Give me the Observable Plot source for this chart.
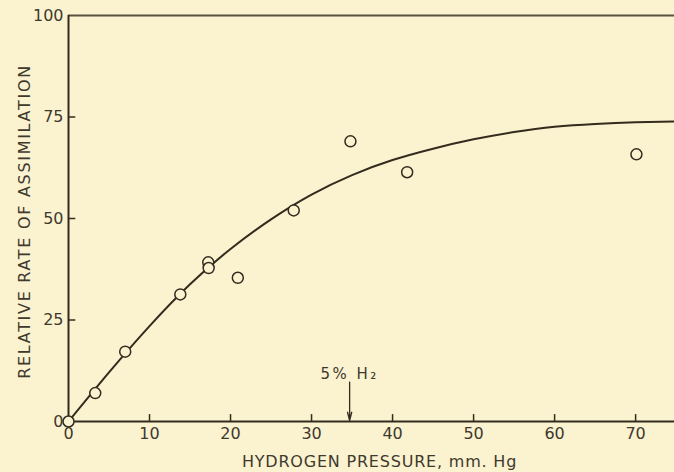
<!DOCTYPE html>
<html>
<head>
<meta charset="utf-8">
<script src="https://cdn.jsdelivr.net/npm/d3@7"></script>
<script src="https://cdn.jsdelivr.net/npm/@observablehq/plot@0.6"></script>
<style>
  html, body { margin: 0; padding: 0; background: #fbf2d0; }
  #chart { width: 674px; height: 472px; }
  g[aria-label="text"] text { letter-spacing: 0.8px; }
</style>
</head>
<body>
<div id="chart"></div>
<script>
// Measured data points (hydrogen pressure mm Hg, relative rate)
const pressure = [0, 3.3, 7.0, 13.8, 17.25, 17.3, 20.9, 27.8, 34.8, 41.8, 70.1];
const rate     = [0, 7.0, 17.2, 31.3, 39.2, 37.8, 35.4, 52.0, 69.0, 61.4, 65.8];

// Fitted curve as drawn
const curveX = [0, 5, 10, 15, 20, 25, 30, 35, 40, 45, 50, 55, 60, 65, 70, 75];
const curveY = [0, 12.1, 23.5, 33.8, 42.5, 49.8, 55.9, 60.7, 64.4, 67.2, 69.5, 71.3, 72.6, 73.3, 73.7, 73.9];

const xTickLabels = [0, 10, 20, 30, 40, 50, 60, 70];
const yTickLabels = [0, 25, 50, 75, 100];
const xInnerTicks = [10, 20, 30, 40, 50, 60, 70];
const yInnerTicks = [25, 50, 75];

const xTitle = "HYDROGEN PRESSURE, mm. Hg";
const yTitle = "RELATIVE RATE OF ASSIMILATION";
const noteLabel = ["5% H₂"];
const noteX = [34.7];
const noteTextY = [11.6];
const noteArrowTop = [9.7];

const bg = "#fbf2d0";
const ink = "#332b1d";
const textInk = "#3e392d";

const points = pressure.map((p, i) => ({x: p, y: rate[i]}));
const curve = curveX.map((p, i) => ({x: p, y: curveY[i]}));

const chart = Plot.plot({
  width: 674,
  height: 472,
  marginLeft: 68,
  marginRight: 0,
  marginTop: 15,
  marginBottom: 51,
  x: {domain: [0, 74.8]},
  y: {domain: [0, 100]},
  style: {background: bg, fontFamily: "DejaVu Sans, sans-serif", fontSize: "16px", color: textInk},
  marks: [
    // frame lines
    Plot.ruleY([0], {stroke: ink, strokeWidth: 2}),
    Plot.ruleY([100], {stroke: ink, strokeWidth: 2, strokeOpacity: 0.8}),
    Plot.ruleX([0], {stroke: ink, strokeWidth: 2}),
    // inward ticks
    Plot.ruleX(xInnerTicks, {x: d => d, y1: 0, y2: 1.7, stroke: ink, strokeWidth: 1.5}),
    Plot.ruleY(yInnerTicks, {y: d => d, x1: 0, x2: 0.9, stroke: ink, strokeWidth: 1.5}),
    // tick labels
    Plot.axisX(xTickLabels, {tickSize: 0, tickPadding: 6, label: null, fontSize: 16, fill: textInk, tickFormat: d => String(d)}),
    Plot.axisY(yTickLabels, {tickSize: 0, tickPadding: 5, label: null, fontSize: 16, fill: textInk, tickFormat: d => String(d)}),
    // curve
    Plot.line(curve, {x: "x", y: "y", curve: "natural", stroke: ink, strokeWidth: 2}),
    // points
    Plot.dot(points, {x: "x", y: "y", r: 5.5, stroke: ink, strokeWidth: 1.5, fill: bg}),
    // annotation
    Plot.arrow(noteX, {x1: d => d, x2: d => d, y1: noteArrowTop[0], y2: 0.2, stroke: ink, strokeWidth: 1.3, headLength: 10, headAngle: 28}),
    Plot.text(noteLabel, {x: noteX[0], y: noteTextY[0], fontSize: 15, fill: textInk, textAnchor: "middle"}),
    // axis titles
    Plot.text([xTitle], {frameAnchor: "bottom", textAnchor: "middle", lineAnchor: "bottom", dy: 45.5, dx: 8, fontSize: 16, fill: textInk}),
    Plot.text([yTitle], {frameAnchor: "left", textAnchor: "middle", lineAnchor: "middle", dx: -44, dy: 3, rotate: -90, fontSize: 16, fill: textInk})
  ]
});
d3.select(chart).selectAll("text")
  .filter(function() { return this.textContent === yTitle; })
  .style("letter-spacing", "1.7px");
d3.select(chart).selectAll("text")
  .filter(function() { return this.textContent === noteLabel[0]; })
  .style("letter-spacing", "2.5px");
document.getElementById("chart").appendChild(chart);
</script>
</body>
</html>
